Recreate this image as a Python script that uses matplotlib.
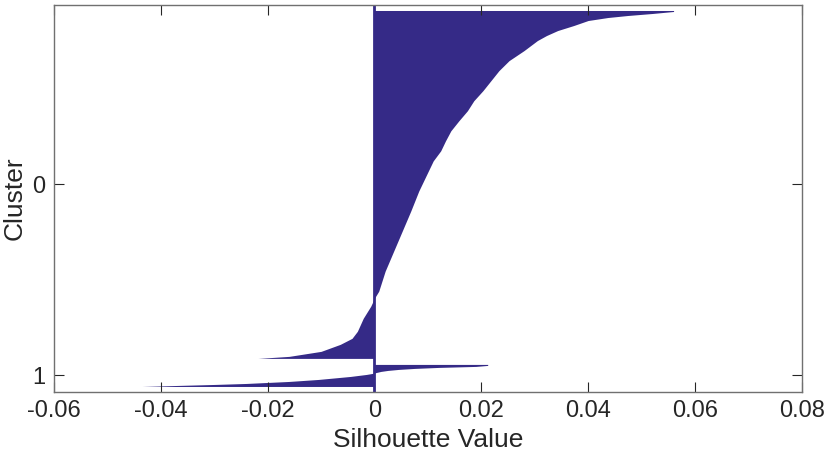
import numpy as np
import matplotlib
matplotlib.use('Agg')
import matplotlib.pyplot as plt

# sorted silhouette values per cluster, read at sample indices of the sorted list
cluster_names = ['0', '1']
cluster_sizes = [348, 23]

c0_idx = [0, 1, 3, 5, 7, 10, 15, 20, 25, 30, 40, 50, 60, 70, 80, 90, 100, 110,
          120, 130, 140, 150, 160, 170, 180, 200, 220, 240, 260, 280, 287, 295,
          307, 320, 327, 333, 340, 345, 347]
c0_vals = [0.0560, 0.0560, 0.0520, 0.0474, 0.0437, 0.0400, 0.0373, 0.0343,
           0.0322, 0.0305, 0.0280, 0.0252, 0.0233, 0.0218, 0.0203, 0.0186,
           0.0174, 0.0158, 0.0143, 0.0133, 0.0124, 0.0110, 0.0101, 0.0092,
           0.0083, 0.0068, 0.0052, 0.0036, 0.0020, 0.0008, 0.0000, -0.0007,
           -0.0021, -0.0032, -0.0042, -0.0064, -0.0100, -0.0160, -0.0218]

c1_idx = [0, 1, 2, 3, 4, 5, 6, 7, 8, 9, 10, 12, 15, 17, 19, 20, 21, 22]
c1_vals = [0.0212, 0.0212, 0.0190, 0.0120, 0.0075, 0.0045, 0.0025, 0.0012,
           0.0004, -0.0004, -0.0015, -0.0045, -0.0105, -0.0160, -0.0240,
           -0.0300, -0.0370, -0.0435]

color = '#352a87'
space = 5

fig = plt.figure(figsize=(8.3, 4.61), dpi=100)
ax = fig.add_axes([0.065, 0.1497, 0.901, 0.8395])

plt.rcParams['font.family'] = ['Liberation Sans', 'DejaVu Sans']

start = space
ticks = []
for idx, vals, n in [(c0_idx, c0_vals, cluster_sizes[0]), (c1_idx, c1_vals, cluster_sizes[1])]:
    y = start + np.array(idx) + 0.5
    ax.fill_betweenx(y, 0, vals, color=color, linewidth=0)
    ticks.append(start + n / 2.0)
    start += n + space

ax.axvline(0, color=color, lw=2)
ax.set_ylim(start, 0)
ax.set_xlim(-0.06, 0.08)
ax.set_xticks([-0.06, -0.04, -0.02, 0, 0.02, 0.04, 0.06, 0.08])
ax.set_xticklabels(['-0.06', '-0.04', '-0.02', '0', '0.02', '0.04', '0.06', '0.08'],
                   fontsize=17, family='Liberation Sans', color='#262626')
ax.set_yticks(ticks)
ax.set_yticklabels(cluster_names, fontsize=17, family='Liberation Sans', color='#262626')
ax.tick_params(direction='in', length=7, width=0.8, top=True, right=True,
               color='#262626', pad=6)
for s in ax.spines.values():
    s.set_color('#707070')
    s.set_linewidth(1)

ax.set_xlabel('Silhouette Value', fontsize=19, family='Liberation Sans', color='#262626')
ax.set_ylabel('Cluster', fontsize=19, family='Liberation Sans', color='#262626', labelpad=4)

fig.savefig('out.png', dpi=100)
